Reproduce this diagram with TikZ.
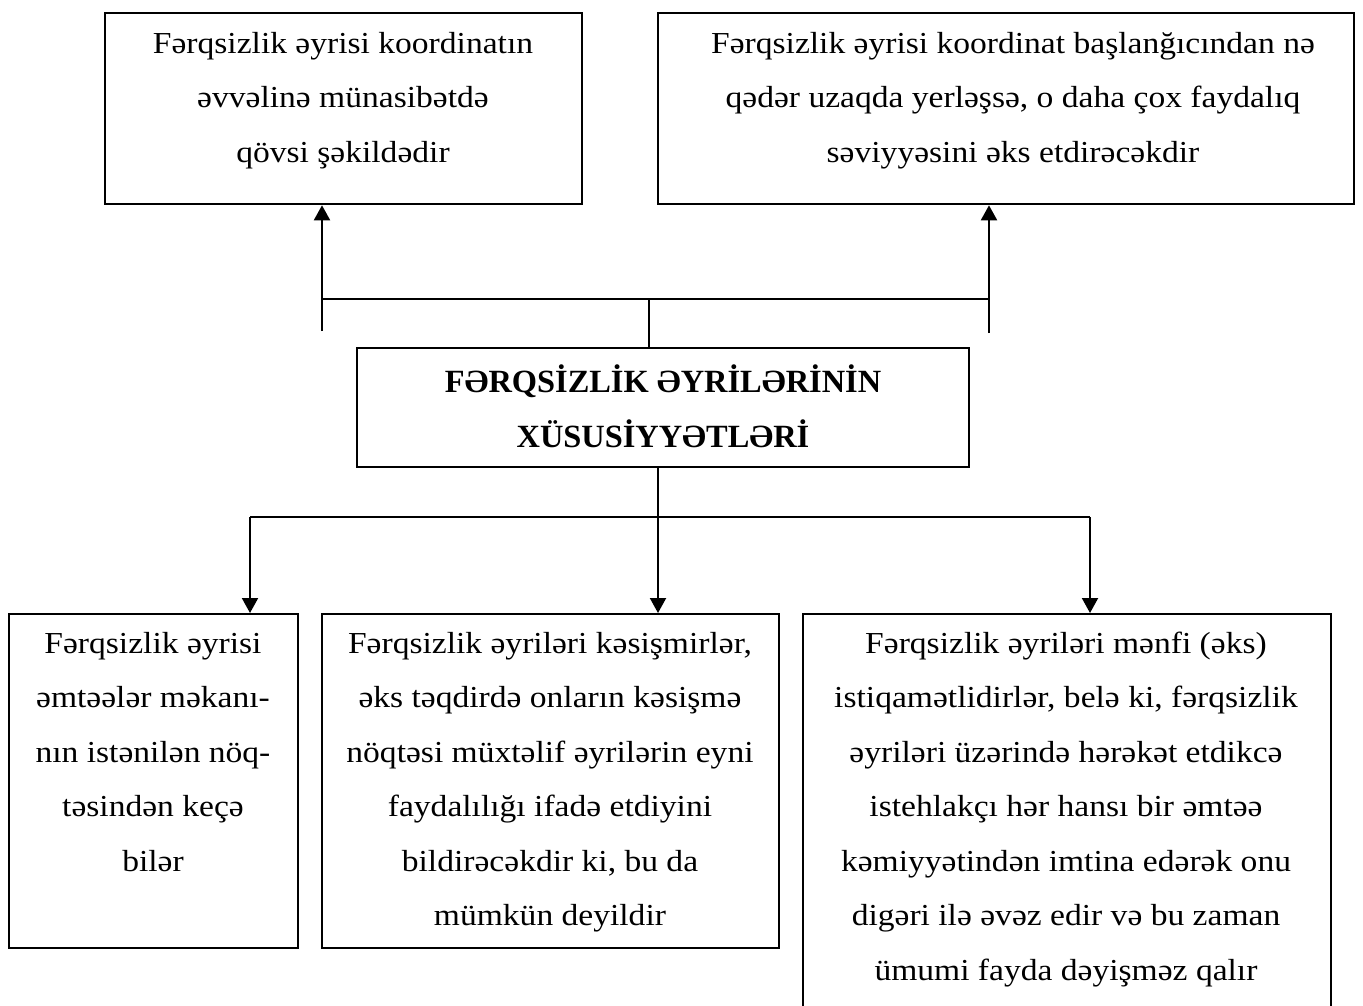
\documentclass[tikz,border=0pt]{standalone}
\usepackage{fontspec}
\setmainfont{Liberation Serif}
\newfontfamily\widefont{Liberation Serif}[FakeStretch=1.1]
\usetikzlibrary{arrows.meta}
\begin{document}
\begin{tikzpicture}[x=1pt,y=-1pt,
  boxshape/.style={draw=black,line width=2.3pt,inner sep=0pt,anchor=north west},
  txt/.style={inner sep=0pt,anchor=north,align=center,font=\widefont\fontsize{30.5}{54.5}\selectfont},
  headtxt/.style={inner sep=0pt,anchor=north,align=center,font=\bfseries\fontsize{32.4}{55}\selectfont},
  conn/.style={draw=black,line width=2pt},
  arr/.style={conn,-{Triangle[width=16pt,length=15pt]}}]
\useasboundingbox (0,0) rectangle (1363,1005);
% boxes
\node[boxshape,minimum width=477pt,minimum height=191pt] (tl) at (104,12) {};
\node[boxshape,minimum width=696pt,minimum height=191pt] (tr) at (657,12) {};
\node[boxshape,minimum width=612pt,minimum height=119pt] (cb) at (356,347) {};
\node[boxshape,minimum width=289pt,minimum height=334pt] (bl) at (8,613) {};
\node[boxshape,minimum width=457pt,minimum height=334pt] (bm) at (321,613) {};
\node[boxshape,minimum width=528pt,minimum height=410pt] (br) at (802,613) {};
% texts
\node[txt] (tlt) at (343,53-29) {\rule{0pt}{29pt}Fərqsizlik əyrisi koordinatın\\əvvəlinə münasibətdə\\qövsi şəkildədir};
\node[txt] (trt) at (1013,53-29) {\rule{0pt}{29pt}Fərqsizlik əyrisi koordinat başlanğıcından nə\\qədər uzaqda yerləşsə, o daha çox faydalıq\\səviyyəsini əks etdirəcəkdir};
\node[headtxt] (cbt) at (663,392-31) {\rule{0pt}{31pt}FƏRQSİZLİK ƏYRİLƏRİNİN\\XÜSUSİYYƏTLƏRİ};
\node[txt] (blt) at (153,653-29) {\rule{0pt}{29pt}Fərqsizlik əyrisi\\əmtəələr məkanı-\\nın istənilən nöq-\\təsindən keçə\\bilər};
\node[txt] (bmt) at (550,653-29) {\rule{0pt}{29pt}Fərqsizlik əyriləri kəsişmirlər,\\əks təqdirdə onların kəsişmə\\nöqtəsi müxtəlif əyrilərin eyni\\faydalılığı ifadə etdiyini\\bildirəcəkdir ki, bu da\\mümkün deyildir};
\node[txt] (brt) at (1066,653-29) {\rule{0pt}{29pt}Fərqsizlik əyriləri mənfi (əks)\\istiqamətlidirlər, belə ki, fərqsizlik\\əyriləri üzərində hərəkət etdikcə\\istehlakçı hər hansı bir əmtəə\\kəmiyyətindən imtina edərək onu\\digəri ilə əvəz edir və bu zaman\\ümumi fayda dəyişməz qalır};
% top connectors
\coordinate (tj) at (649,299);
\coordinate (thl) at (322,299);
\coordinate (thr) at (989,299);
\coordinate (tsl) at (322,331);
\coordinate (tsr) at (989,333);
\draw[conn] (cb.north -| tj) -- (tj);
\draw[conn] (thl) -- (thr);
\draw[arr] (tsl) -- (tl.south -| tsl);
\draw[arr] (tsr) -- (tr.south -| tsr);
% bottom connectors
\coordinate (bj) at (658,517);
\coordinate (bhl) at (250,517);
\coordinate (bhr) at (1090,517);
\draw[arr] (cb.south -| bj) -- (bm.north -| bj);
\draw[conn] (bhl) -- (bhr);
\draw[arr] (bhl) -- (bl.north -| bhl);
\draw[arr] (bhr) -- (br.north -| bhr);
\end{tikzpicture}
\end{document}
